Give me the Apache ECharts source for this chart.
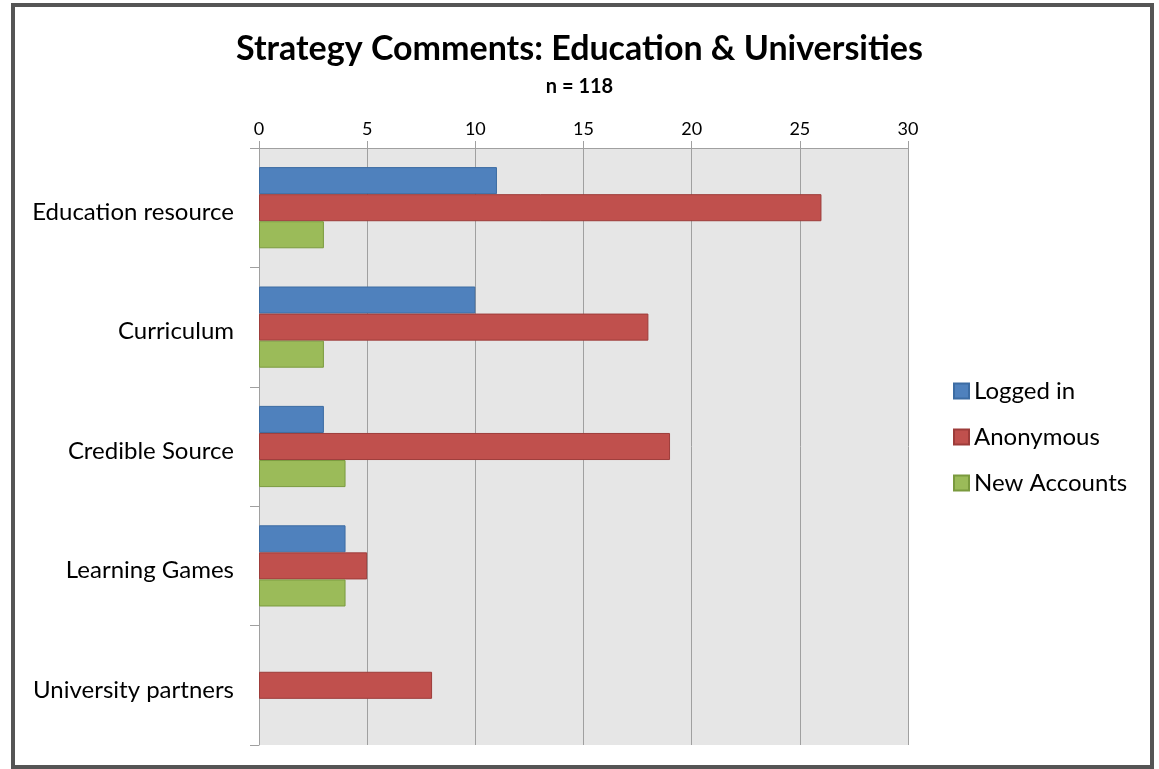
<!DOCTYPE html>
<html>
<head>
<meta charset="utf-8">
<script src="https://cdn.jsdelivr.net/npm/echarts@6/dist/echarts.min.js"></script>
<style>
  html, body { margin: 0; padding: 0; background: #fff; }
  #chart { width: 1159px; height: 769px; }
</style>
</head>
<body>
<div id="chart"></div>
<script>
const categories = ['Education resource', 'Curriculum', 'Credible Source', 'Learning Games', 'University partners'];
const loggedIn = [11, 10, 3, 4, 0];
const anonymous = [26, 18, 19, 5, 8];
const newAccounts = [3, 3, 4, 4, 0];
const seriesNames = ['Logged in', 'Anonymous', 'New Accounts'];

const FONT = 'Lato';
const chart = echarts.init(document.getElementById('chart'), null, { renderer: 'canvas' });

// Zero-length bars get no outline so nothing shows on the axis line.
function barSeries(name, data, fill, edge) {
  return {
    name: name,
    type: 'bar',
    data: data.map(v => (v === 0 ? { value: 0, itemStyle: { borderWidth: 0 } } : v)),
    barGap: '0%',
    barCategoryGap: '32%',
    itemStyle: { color: fill, borderColor: edge, borderWidth: 1 }
  };
}

chart.setOption({
  animation: false,
  backgroundColor: '#fff',
  title: {
    text: 'Strategy Comments: Education & Universities',
    subtext: 'n = 118',
    left: 'center',
    top: 27,
    itemGap: 11,
    textStyle: { fontFamily: FONT, fontWeight: 'bold', fontSize: 34, color: '#000' },
    subtextStyle: { fontFamily: FONT, fontWeight: 'bold', fontSize: 20, color: '#000' }
  },
  legend: {
    orient: 'vertical',
    left: 948,
    top: 374,
    itemWidth: 15,
    itemHeight: 15,
    itemGap: 22,
    icon: 'rect',
    textStyle: { fontFamily: FONT, fontSize: 24, color: '#000' },
    data: seriesNames
  },
  grid: { left: 259, top: 148, right: 251, bottom: 24, show: true, backgroundColor: '#e6e6e6', borderWidth: 0 },
  xAxis: {
    type: 'value',
    position: 'top',
    min: 0,
    max: 30,
    interval: 5,
    axisLine: { show: true, lineStyle: { color: '#a0a0a0' } },
    axisTick: { show: true, length: 7, inside: false, lineStyle: { color: '#a0a0a0' } },
    axisLabel: { fontFamily: FONT, fontSize: 18, color: '#000', margin: 10 },
    splitLine: { show: true, lineStyle: { color: '#a0a0a0', width: 1 } }
  },
  yAxis: {
    type: 'category',
    inverse: true,
    data: categories,
    axisLine: { show: true, lineStyle: { color: '#a0a0a0' } },
    axisTick: { show: true, length: 9, lineStyle: { color: '#a0a0a0' } },
    axisLabel: {
      margin: 25,
      formatter: '{cat|{value}}',
      rich: { cat: { fontFamily: FONT, fontSize: 24, color: '#000', padding: [9, 0, 0, 0] } }
    }
  },
  graphic: [{
    type: 'rect',
    shape: { x: 13, y: 5, width: 1139, height: 762 },
    style: { fill: 'none', stroke: '#555', lineWidth: 4 },
    z: 100
  }],
  series: [
    barSeries(seriesNames[0], loggedIn, '#4f81bd', '#3c6ca3'),
    barSeries(seriesNames[1], anonymous, '#c0504d', '#9d3c3a'),
    barSeries(seriesNames[2], newAccounts, '#9bbb59', '#7a9a3e')
  ]
});
</script>
</body>
</html>
